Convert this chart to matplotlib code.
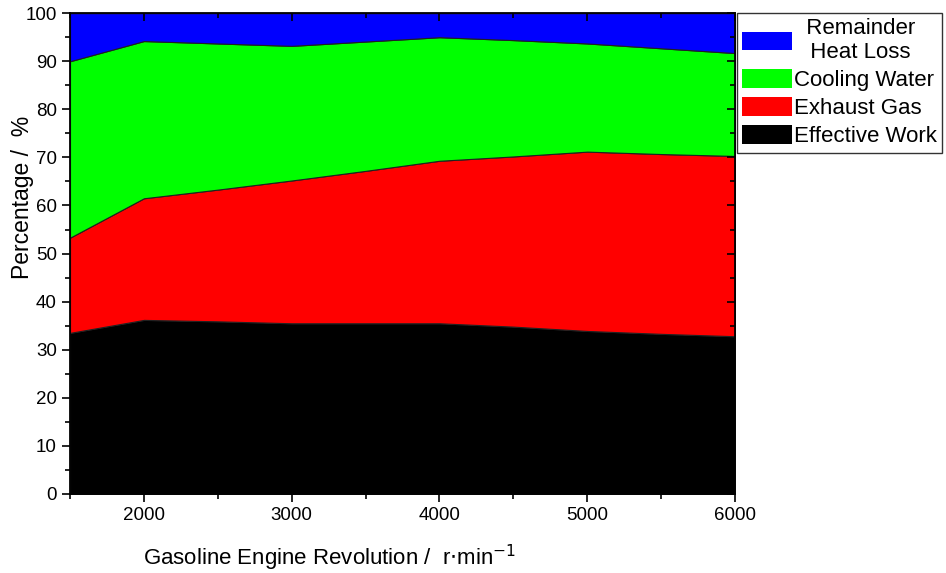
import matplotlib
matplotlib.use("Agg")
import matplotlib.pyplot as plt
from matplotlib.ticker import MultipleLocator
from matplotlib.patches import Patch

plt.rcParams["font.family"] = ["Liberation Sans", "DejaVu Sans"]

# engine speed, r/min
rpm = [1500, 2000, 2500, 3000, 3500, 4000, 4500, 5000, 5500, 6000]
# share of fuel energy, %
effective_work = [33.5, 36.2, 35.9, 35.5, 35.5, 35.5, 34.8, 33.9, 33.3, 32.8]
exhaust_gas = [19.8, 25.3, 27.4, 29.7, 31.7, 33.8, 35.4, 37.3, 37.4, 37.5]
cooling_water = [36.7, 32.7, 30.4, 28.0, 26.9, 25.7, 24.2, 22.5, 22.0, 21.4]
remainder = [10.0, 5.8, 6.3, 6.8, 5.9, 5.0, 5.6, 6.3, 7.3, 8.3]

labels = ["Effective Work", "Exhaust Gas", "Cooling Water", "  Remainder\n  Heat Loss"]
colors = ["#000000", "#ff0000", "#00ff00", "#0000ff"]

fig = plt.figure(figsize=(9.46, 5.73), dpi=100)
ax = fig.add_axes([0.074, 0.138, 0.703, 0.839])

ax.stackplot(rpm, effective_work, exhaust_gas, cooling_water, remainder,
             colors=colors, edgecolor="#202020", linewidth=0.8)

ax.set_xlim(1500, 6000)
ax.set_ylim(0, 100)
ax.xaxis.set_major_locator(MultipleLocator(1000))
ax.xaxis.set_minor_locator(MultipleLocator(500))
ax.yaxis.set_major_locator(MultipleLocator(10))
ax.yaxis.set_minor_locator(MultipleLocator(5))
ax.set_xticks([2000, 3000, 4000, 5000, 6000])

ax.tick_params(axis="both", which="both", labelsize=13.5, width=1.2)
ax.tick_params(which="major", length=6)
ax.tick_params(which="minor", length=3.5)
ax.tick_params(top=True, right=True, which="both")
for t in ax.xaxis.get_major_ticks() + ax.xaxis.get_minor_ticks():
    t.tick2line.set_marker(3)
for t in ax.yaxis.get_major_ticks() + ax.yaxis.get_minor_ticks():
    t.tick2line.set_marker(0)
for s in ax.spines.values():
    s.set_linewidth(1.3)

# axis titles placed like the original (not centred on the axes)
fig.text(143 / 946, 1 - 565 / 573, "Gasoline Engine Revolution /  r$\\cdot$min$^{-1}$",
         fontsize=16, ha="left", va="baseline")
fig.text(23 / 946, 1 - 197 / 573, "Percentage /  %", fontsize=16.5,
         rotation=90, ha="center", va="center")

handles = [Patch(facecolor=c) for c in colors[::-1]]
leg = fig.legend(handles, labels[::-1], loc="upper left", bbox_to_anchor=(0.779, 0.978),
                 fontsize=16, frameon=True, fancybox=False, edgecolor="black",
                 handlelength=2.25, handleheight=0.9, handletextpad=0.05,
                 labelspacing=0.27, borderpad=0.25, borderaxespad=0)
leg.get_frame().set_linewidth(1.0)
leg.get_texts()[0].set_multialignment("center")

fig.savefig("out.png", dpi=100)
